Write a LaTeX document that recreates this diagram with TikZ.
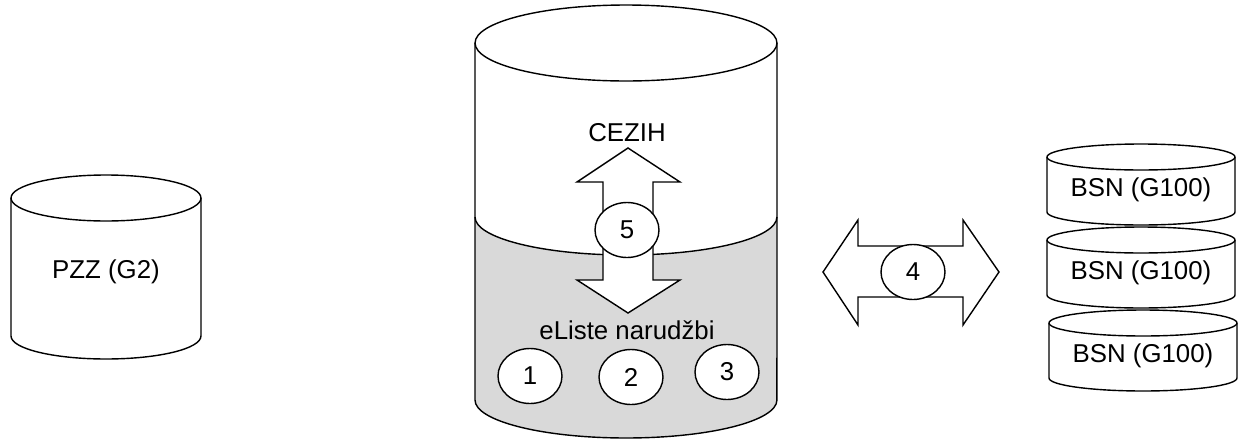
\documentclass[tikz,border=0pt]{standalone}
\usepackage{fontspec}
\setmainfont{Liberation Sans}
\usetikzlibrary{shapes}
\tikzset{lbl/.style={font=\fontsize{14.7}{17}\selectfont}}
\tikzset{num/.style={draw, ellipse, fill=white, inner sep=0pt, minimum width=1.28cm, minimum height=1.1cm, font=\fontsize{14.7}{17}\selectfont}}

\begin{document}
\begin{tikzpicture}[x=0.02cm, y=-0.02cm, line width=0.8pt]
\useasboundingbox (0,0) rectangle (1242,440);

% PZZ
\draw[fill=white] (11,198) -- (11,336) arc[start angle=180, end angle=360, x radius=1.9cm, y radius=0.46cm] -- (201,198);
\draw (106,198) ellipse [x radius=1.9cm, y radius=0.46cm];
\node[lbl] (pzz) at (106,272) {PZZ (G2)};

% CEZIH
\fill[gray!30] (475,217) arc[start angle=180, end angle=360, x radius=3.02cm, y radius=0.76cm] -- (777,400) arc[start angle=0, end angle=-180, x radius=3.02cm, y radius=0.76cm] -- cycle;
\draw (475,43) -- (475,400) arc[start angle=180, end angle=360, x radius=3.02cm, y radius=0.76cm] -- (777,43);
\draw (626,43) ellipse [x radius=3.02cm, y radius=0.76cm];
\draw (475,217) arc[start angle=180, end angle=360, x radius=3.02cm, y radius=0.76cm];

\draw[fill=white] (628,148) -- (680,182) -- (653,182) -- (653,280) -- (680,280) -- (628,313) -- (577,280) -- (603,280) -- (603,182) -- (577,182) -- cycle;

\node[lbl] (cezih) at (627,133) {CEZIH};
\node[lbl] (eliste) at (627,330) {eListe narudžbi};
\node[num] (n5) at (627,230) {5};
\node[num] (n1) at (530,376) {1};
\node[num] (n2) at (631,377) {2};
\node[num] (n3) at (727,372) {3};

% razmjena
\draw[fill=white] (823,272) -- (858,220) -- (858,246) -- (963,246) -- (963,220) -- (999,272) -- (963,325) -- (963,297) -- (858,297) -- (858,325) -- cycle;
\node[num] (n4) at (913,272) {4};

% BSN
\draw[fill=white] (1047,157) -- (1047,212) arc[start angle=180, end angle=360, x radius=1.88cm, y radius=0.26cm] -- (1235,157);
\draw (1141,157) ellipse [x radius=1.88cm, y radius=0.26cm];
\node[lbl] (bsn1) at (1141,190) {BSN (G100)};

\draw[fill=white] (1047,240) -- (1047,295) arc[start angle=180, end angle=360, x radius=1.88cm, y radius=0.26cm] -- (1235,240);
\draw (1141,240) ellipse [x radius=1.88cm, y radius=0.26cm];
\node[lbl] (bsn2) at (1141,273) {BSN (G100)};

\draw[fill=white] (1049,323) -- (1049,378) arc[start angle=180, end angle=360, x radius=1.88cm, y radius=0.26cm] -- (1237,323);
\draw (1143,323) ellipse [x radius=1.88cm, y radius=0.26cm];
\node[lbl] (bsn3) at (1143,356) {BSN (G100)};

\end{tikzpicture}
\end{document}
